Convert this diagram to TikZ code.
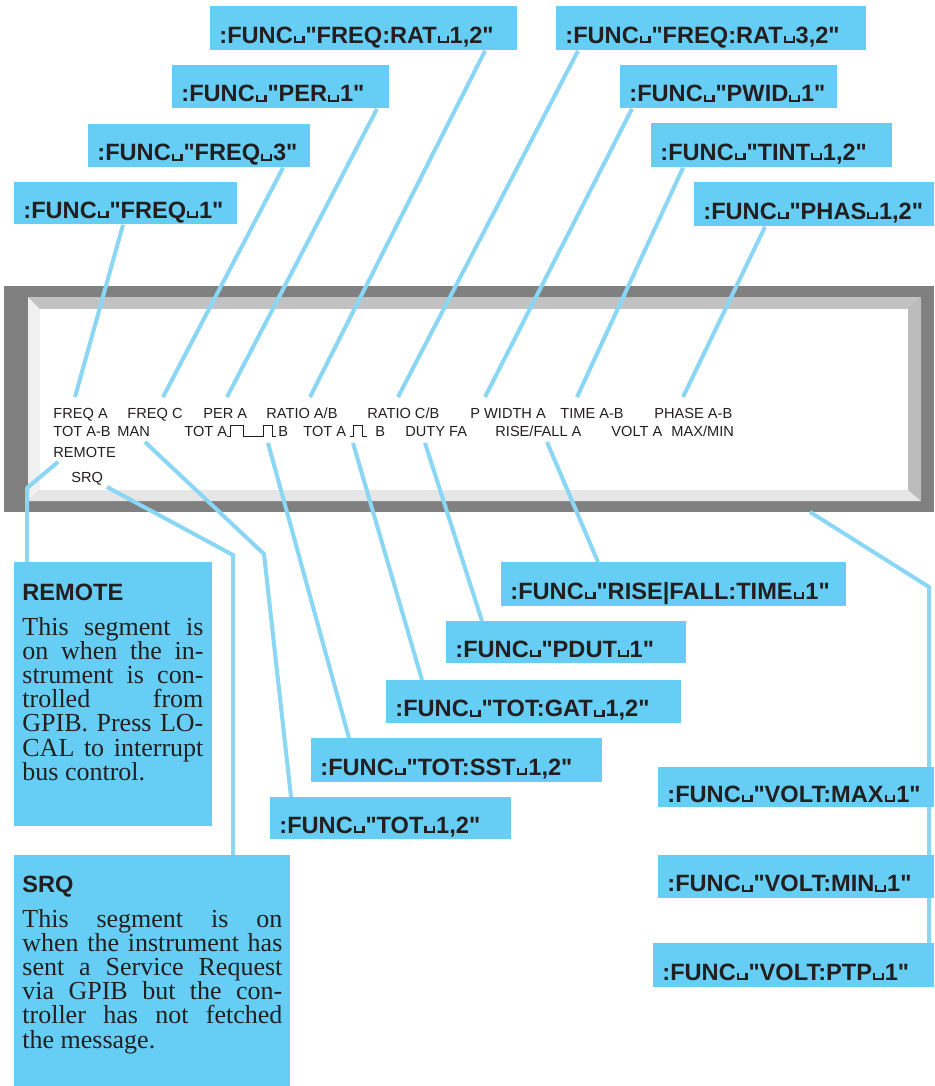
\documentclass[tikz,border=0pt]{standalone}
\usepackage{fontspec}
\setmainfont{Liberation Serif}
\setsansfont{Liberation Sans}[Ligatures=TeXOff]
\usetikzlibrary{calc}
\definecolor{boxblue}{RGB}{102,206,245}
\definecolor{leadblue}{RGB}{138,214,245}
\definecolor{ink}{RGB}{35,31,32}
\definecolor{framegray}{RGB}{128,128,128}
\definecolor{bevtop}{RGB}{194,194,194}
\definecolor{bevright}{RGB}{188,188,188}
\definecolor{bevbot}{RGB}{230,230,230}
\definecolor{bevleft}{RGB}{240,240,240}
\pgfdeclarelayer{bg}\pgfdeclarelayer{mid}\pgfsetlayers{bg,mid,main}
\newcommand\vspmark{\kern0.04em\rule{0.09em}{0.3em}\rule{0.28em}{0.09em}\rule{0.09em}{0.3em}\kern0.04em}
\newcommand\titlef{\sffamily\bfseries\fontsize{11.8}{12}\selectfont}
\newcommand\bodyf{\rmfamily\fontsize{13}{12.1}\selectfont}
\newcommand\jline[1]{\makebox[\linewidth][s]{#1}}
\begin{document}
\begin{tikzpicture}[x=0.5pt,y=-0.5pt,
  cmd/.style={fill=boxblue, anchor=north west, inner xsep=4.5pt, inner ysep=0pt, align=left,
    text height=15pt, text depth=0pt, font=\titlef, text=ink},
  disp/.style={anchor=base west, inner sep=0pt, font=\sffamily\fontsize{7.3}{8}\selectfont, text=ink},
  descbox/.style={fill=boxblue, anchor=north west, inner sep=0pt},
  desctext/.style={anchor=base west, inner sep=0pt, text=ink},
  leader/.style={draw=leadblue, line width=2pt},
  pulse/.style={draw=ink, line width=0.5pt}]
\useasboundingbox (0,0) rectangle (934,1086);
% display frame
\begin{pgfonlayer}{bg}
\node[fill=framegray, anchor=north west, inner sep=0pt, outer sep=0pt, minimum width=465pt, minimum height=113pt] (frame) at (4,286) {};
\fill[bevtop] (28,297) -- (921,297) -- (908,309) -- (40,309) -- cycle;
\fill[bevright] (921,297) -- (921,501) -- (908,490) -- (908,309) -- cycle;
\fill[bevbot] (28,501) -- (921,501) -- (908,490) -- (40,490) -- cycle;
\fill[bevleft] (28,297) -- (40,309) -- (40,490) -- (28,501) -- cycle;
\fill[white] (40,309) rectangle (908,490);
\end{pgfonlayer}
% display texts row 1
\node[disp] (fa) at (53,418) {FREQ A};
\node[disp] (fc) at (127,418) {FREQ C};
\node[disp] (pa) at (203,418) {PER A};
\node[disp] (rab) at (266,418) {RATIO A/B};
\node[disp] (rcb) at (367,418) {RATIO C/B};
\node[disp] (pw) at (470,418) {P WIDTH A};
\node[disp] (tab) at (560,418) {TIME A-B};
\node[disp] (phab) at (654,418) {PHASE A-B};
% row 2
\node[disp] (totab) at (53,436) {TOT A-B};
\node[disp] (man) at (117,436) {MAN};
\node[disp] (tota1) at (184,436) {TOT A};
\node[disp] (b1) at (278,436) {B};
\node[disp] (tota2) at (303,436) {TOT A};
\node[disp] (b2) at (375,436) {B};
\node[disp] (duty) at (405,436) {DUTY FA};
\node[disp] (rf) at (495,436) {RISE/FALL A};
\node[disp] (volta) at (611,436) {VOLT A};
\node[disp] (mm) at (671,436) {MAX/MIN};
\node[disp] (rem) at (53,457) {REMOTE};
\node[disp] (srq) at (71,482) {SRQ};
\draw[pulse] (227,436) -- (230,436) -- (230,425) -- (243,425) -- (243,436) -- (263,436) -- (263,425) -- (272,425) -- (272,436) -- (276,436);
\draw[pulse] (350,436) -- (353,436) -- (353,425) -- (362,425) -- (362,436) -- (367,436);
% command boxes top
\node[cmd, text width=144.5pt, minimum height=22pt] (fr12) at (210,6) {:FUNC\vspmark"FREQ:RAT\vspmark1,2"};
\node[cmd, text width=146pt, minimum height=22pt] (fr32) at (556,6) {:FUNC\vspmark"FREQ:RAT\vspmark3,2"};
\node[cmd, text width=99.5pt, minimum height=21.5pt] (per1) at (172,65) {:FUNC\vspmark"PER\vspmark1"};
\node[cmd, text width=99.5pt, minimum height=21.5pt] (pwid) at (620,65) {:FUNC\vspmark"PWID\vspmark1"};
\node[cmd, text width=102pt, minimum height=21.5pt] (fr3) at (88,124) {:FUNC\vspmark"FREQ\vspmark3"};
\node[cmd, text width=111.5pt, minimum height=22pt] (tint) at (651,123) {:FUNC\vspmark"TINT\vspmark1,2"};
\node[cmd, text width=102.5pt, minimum height=21pt] (fr1) at (14,182) {:FUNC\vspmark"FREQ\vspmark1"};
\node[cmd, text width=111pt, minimum height=22pt] (phas) at (694,182) {:FUNC\vspmark"PHAS\vspmark1,2"};
% command boxes bottom
\node[cmd, text width=163.5pt, minimum height=22pt] (rise) at (501,562) {:FUNC\vspmark"RISE|FALL:TIME\vspmark1"};
\node[cmd, text width=111pt, minimum height=21pt] (pdut) at (446,621) {:FUNC\vspmark"PDUT\vspmark1"};
\node[cmd, text width=138.5pt, minimum height=21.5pt] (totgat) at (386,680) {:FUNC\vspmark"TOT:GAT\vspmark1,2"};
\node[cmd, text width=136.5pt, minimum height=22pt] (totsst) at (311,738) {:FUNC\vspmark"TOT:SST\vspmark1,2"};
\node[cmd, text width=111.5pt, minimum height=21pt] (tot12) at (270,797) {:FUNC\vspmark"TOT\vspmark1,2"};
\node[cmd, text width=129pt, minimum height=20pt] (vmax) at (658,767) {:FUNC\vspmark"VOLT:MAX\vspmark1"};
\node[cmd, text width=129pt, minimum height=21.5pt] (vmin) at (658,855) {:FUNC\vspmark"VOLT:MIN\vspmark1"};
\node[cmd, text width=131.5pt, minimum height=22pt] (ptp) at (653,943) {:FUNC\vspmark"VOLT:PTP\vspmark1"};
% description boxes
\node[descbox, minimum width=99pt, minimum height=132pt] (remotebox) at (14,562) {};
\node[desctext] (remotetxt) at (22,600) {\parbox[t]{90.5pt}{{\titlef REMOTE\par}\vspace{5.4pt}{\bodyf
\jline{This segment is}\\
\jline{on when the in-}\\
\jline{strument is con-}\\
\jline{trolled from}\\
\jline{GPIB. Press LO-}\\
\jline{CAL to interrupt}\\
bus control.\par}}};
\node[descbox, minimum width=138pt, minimum height=115.5pt] (srqbox) at (14,855) {};
\node[desctext] (srqtxt) at (22,892) {\parbox[t]{130pt}{{\titlef SRQ\par}\vspace{5.4pt}{\bodyf
\jline{This segment is on}\\
\jline{when the instrument has}\\
\jline{sent a Service Request}\\
\jline{via GPIB but the con-}\\
\jline{troller has not fetched}\\
the message.\par}}};
% kinks
\coordinate (k1) at (264,554);
\coordinate (k2) at (27,488);
\coordinate (k3) at (233,555);
\coordinate (k4) at (929,587);
% connectors
\begin{pgfonlayer}{mid}
\draw[leader] ([shift={(275,0)}]fr12.south west) -- ([shift={(44,-21)}]rab.base west);
\draw[leader] ([shift={(22,0)}]fr32.south west) -- ([shift={(31,-21)}]rcb.base west);
\draw[leader] ([shift={(205,0)}]per1.south west) -- ([shift={(24,-21)}]pa.base west);
\draw[leader] ([shift={(195,0)}]fr3.south west) -- ([shift={(36,-21)}]fc.base west);
\draw[leader] ([shift={(109,0)}]fr1.south west) -- ([shift={(22,-21)}]fa.base west);
\draw[leader] ([shift={(12,0)}]pwid.south west) -- ([shift={(15,-21)}]pw.base west);
\draw[leader] ([shift={(32,0)}]tint.south west) -- ([shift={(17,-21)}]tab.base west);
\draw[leader] ([shift={(71,0)}]phas.south west) -- ([shift={(29,-21)}]phab.base west);
\draw[leader] ([shift={(28,6)}]man.base west) -- (k1) -- ([shift={(21,0)}]tot12.north west);
\draw[leader] ([shift={(-10,7)}]b1.base west) -- ([shift={(38,0)}]totsst.north west);
\draw[leader] ([shift={(-22,7)}]b2.base west) -- ([shift={(36,0)}]totgat.north west);
\draw[leader] ([shift={(20,7)}]duty.base west) -- ([shift={(36,0)}]pdut.north west);
\draw[leader] ([shift={(52,6)}]rf.base west) -- ([shift={(97,0)}]rise.north west);
\draw[leader] ([shift={(5,5)}]rem.base west) -- (k2) -- ([shift={(13,0)}]remotebox.north west);
\draw[leader] ([shift={(36,5)}]srq.base west) -- (k3) -- ([shift={(219,0)}]srqbox.north west);
\draw[leader] ([shift={(806,0)}]frame.south west) -- (k4) -- ([shift={(276,0)}]ptp.north west);
\end{pgfonlayer}
\end{tikzpicture}
\end{document}
